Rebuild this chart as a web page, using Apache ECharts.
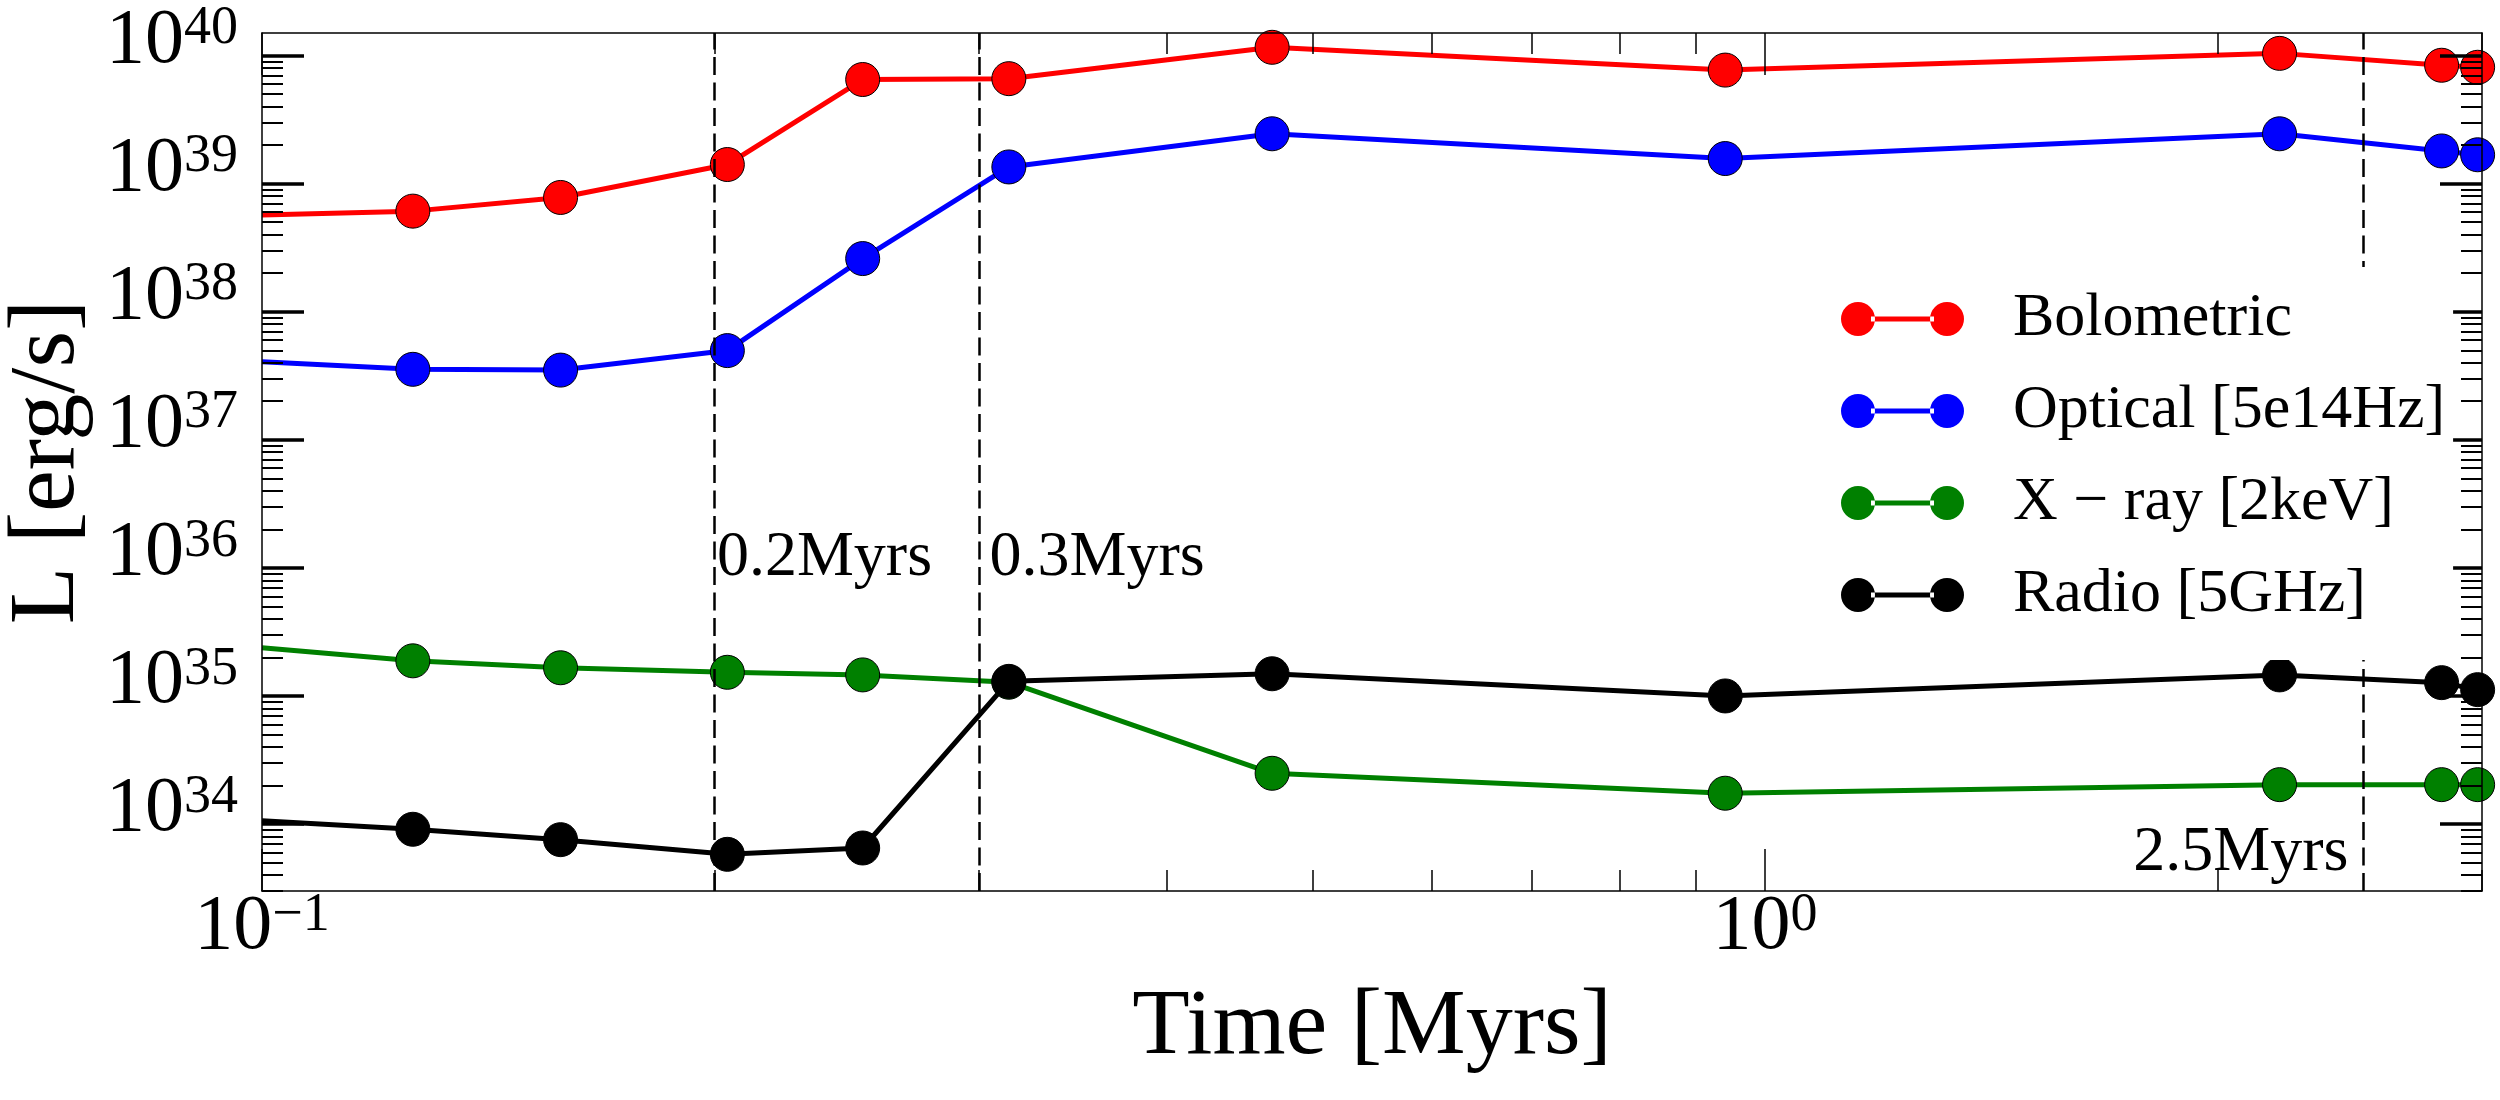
<!DOCTYPE html>
<html>
<head>
<meta charset="utf-8">
<script src="https://cdn.jsdelivr.net/npm/echarts@6/dist/echarts.min.js"></script>
<style>
    html, body { margin: 0; padding: 0; background: #fff; }
    #chart { width: 2500px; height: 1100px; }
</style>
</head>
<body>
<div id="chart"></div>
<script>
const FONT = 'Liberation Serif'

// Time [Myrs]; the first entry is where the curves leave the left edge
const times = [0.1, 0.126, 0.158, 0.204, 0.251, 0.314, 0.470, 0.941, 2.20, 2.82, 2.98]

// L [erg/s]
const bolometric = [5.7e38, 6.1e38, 7.8e38, 1.41e39, 6.5e39, 6.6e39, 1.16e40, 7.7e39, 1.04e40, 8.4e39, 8.1e39]
const optical = [4.07e37, 3.55e37, 3.5e37, 4.97e37, 2.6e38, 1.35e39, 2.45e39, 1.57e39, 2.45e39, 1.8e39, 1.68e39]
const xray = [2.38e35, 1.88e35, 1.66e35, 1.53e35, 1.46e35, 1.28e35, 2.49e34, 1.74e34, 2.03e34, 2.03e34, 2.03e34]
const radio = [1.06e34, 9.1e33, 7.55e33, 5.8e33, 6.5e33, 1.3e35, 1.49e35, 1.0e35, 1.46e35, 1.27e35, 1.12e35]

const names = ['Bolometric', 'Optical [5e14Hz]', 'X − ray [2keV]', 'Radio [5GHz]']
const colors = ['#ff0000', '#0000ff', '#008000', '#000000']

const xMajor = [0.1, 1]
const xMinor = [0.2, 0.3, 0.4, 0.5, 0.6, 0.7, 0.8, 0.9, 2, 3]
const yMajor = [1e34, 1e35, 1e36, 1e37, 1e38, 1e39, 1e40]

// dashed event lines and their notes
const eventTimes = [0.2, 0.3, 2.5]
const noteText = ['0.2Myrs', '0.3Myrs', '2.5Myrs']
const noteL = [1.19e36, 1.19e36, 5.97e33]

const X_MIN = 0.1, X_MAX = 3
const Y_MIN = 3e33, Y_MAX = 1.5e40

// minor log ticks 2..9 of every decade
const yMinor = []
for (let e = 33; e <= 40; e++) {
    for (let k = 2; k <= 9; k++) {
        const v = k * Math.pow(10, e)
        if (v >= Y_MIN && v <= Y_MAX) yMinor.push(v)
    }
}

const tickRich = {
    b: {fontFamily: FONT, fontSize: 78, lineHeight: 78, color: '#000', verticalAlign: 'bottom', padding: [13, 0, 0, 0]},
    s: {fontFamily: FONT, fontSize: 54, lineHeight: 54, color: '#000', verticalAlign: 'top'}
}
const sci = (v) => '{b|10}{s|' + String(Math.round(Math.log10(v))).replace('-', '−') + '}'

const black = (w) => ({color: '#000', width: w})

const logAxis = (extra) => Object.assign({
    type: 'log',
    logBase: 10,
    z: 4,
    splitLine: {show: false},
    axisLine: {show: false, onZero: false},
    axisTick: {show: false},
    axisLabel: {show: false}
}, extra)

const xAxes = [
    logAxis({
        min: X_MIN, max: X_MAX, position: 'bottom',
        axisLine: {show: true, onZero: false, lineStyle: black(1.5)},
        axisTick: {show: true, inside: true, length: 42, customValues: xMajor, lineStyle: black(1.5)},
        axisLabel: {show: true, customValues: xMajor, formatter: sci, margin: -2, rich: tickRich},
        name: 'Time [Myrs]', nameLocation: 'middle', nameGap: 90,
        nameTextStyle: {fontFamily: FONT, fontSize: 94, lineHeight: 94, color: '#000'}
    }),
    logAxis({min: X_MIN, max: X_MAX, position: 'bottom',
        axisTick: {show: true, inside: true, length: 21, customValues: xMinor, lineStyle: black(1.5)}}),
    logAxis({min: X_MIN, max: X_MAX, position: 'top',
        axisLine: {show: true, onZero: false, lineStyle: black(1.5)},
        axisTick: {show: true, inside: true, length: 42, customValues: xMajor, lineStyle: black(1.5)}}),
    logAxis({min: X_MIN, max: X_MAX, position: 'top',
        axisTick: {show: true, inside: true, length: 21, customValues: xMinor, lineStyle: black(1.5)}})
]

const yAxes = [
    logAxis({
        min: Y_MIN, max: Y_MAX, position: 'left',
        axisLine: {show: true, onZero: false, lineStyle: black(1.5)},
        axisTick: {show: true, inside: true, length: 42, customValues: yMajor, lineStyle: black(3.5)},
        axisLabel: {show: true, customValues: yMajor, formatter: sci, margin: 24, rich: tickRich, padding: [0, 0, 29, 0]},
        name: 'L [erg/s]', nameLocation: 'middle', nameGap: 148,
        nameTextStyle: {fontFamily: FONT, fontSize: 94, lineHeight: 94, color: '#000'}
    }),
    logAxis({min: Y_MIN, max: Y_MAX, position: 'left',
        axisTick: {show: true, inside: true, length: 21, customValues: yMinor, lineStyle: black(2)}}),
    logAxis({min: Y_MIN, max: Y_MAX, position: 'right',
        axisLine: {show: true, onZero: false, lineStyle: black(1.5)},
        axisTick: {show: true, inside: true, length: 42, customValues: yMajor, lineStyle: black(3.5)}}),
    logAxis({min: Y_MIN, max: Y_MAX, position: 'right',
        axisTick: {show: true, inside: true, length: 21, customValues: yMinor, lineStyle: black(2)}})
]

const dataSets = [bolometric, optical, xray, radio]
const series = names.map((name, i) => ({
    name: name,
    type: 'line',
    xAxisIndex: 0,
    yAxisIndex: 0,
    data: times.map((t, j) => j === 0 ? {value: [t, dataSets[i][j]], symbol: 'none'} : [t, dataSets[i][j]]),
    symbol: 'circle',
    symbolSize: 34,
    showSymbol: true,
    itemStyle: {color: colors[i], borderColor: '#000', borderWidth: 1},
    lineStyle: {color: colors[i], width: 5},
    emphasis: {disabled: true},
    animation: false
}))

// event markers hang on the last series
series[series.length - 1].markLine = {
    silent: true,
    symbol: ['none', 'none'],
    label: {show: false},
    lineStyle: {color: '#000', width: 2.5, type: [18, 7.5]},
    emphasis: {disabled: true},
    data: eventTimes.map(t => ({xAxis: t}))
}
series[series.length - 1].markPoint = {
    silent: true,
    symbol: 'circle',
    symbolSize: 1,
    itemStyle: {color: 'rgba(0,0,0,0)'},
    data: noteText.map((txt, i) => ({
        coord: [eventTimes[i], noteL[i]],
        label: {
            show: true,
            formatter: txt,
            position: i === 2 ? 'left' : 'right',
            distance: i === 0 ? 2 : (i === 1 ? 10 : 14),
            fontFamily: FONT, fontSize: 64, color: '#000'
        }
    }))
}

const ICON = 'path://M0,17A17,17,0,1,0,34,17A17,17,0,1,0,0,17Z' +
    'M89,17A17,17,0,1,0,123,17A17,17,0,1,0,89,17Z' +
    'M30,14.5L93,14.5L93,19.5L30,19.5Z'

const chart = echarts.init(document.getElementById('chart'))
chart.setOption({
    animation: false,
    backgroundColor: '#fff',
    grid: {left: 262, top: 33, right: 18, bottom: 209, containLabel: false, outerBoundsMode: 'none'},
    xAxis: xAxes,
    yAxis: yAxes,
    legend: {
        data: names,
        orient: 'vertical',
        left: 1811,
        top: 267,
        padding: [21, 8, 34, 30],
        backgroundColor: '#fff',
        itemWidth: 123,
        itemHeight: 34,
        itemGap: 30,
        icon: ICON,
        z: 6,
        selectedMode: false,
        itemStyle: {borderWidth: 0},
        textStyle: {fontFamily: FONT, fontSize: 62, color: '#000', padding: [0, 0, 0, 44]}
    },
    graphic: [{
        type: 'rect',
        z: 3,
        shape: {x: 2483, y: 0, width: 17, height: 1100},
        style: {fill: '#fff'}
    }],
    series: series
})
</script>
</body>
</html>
